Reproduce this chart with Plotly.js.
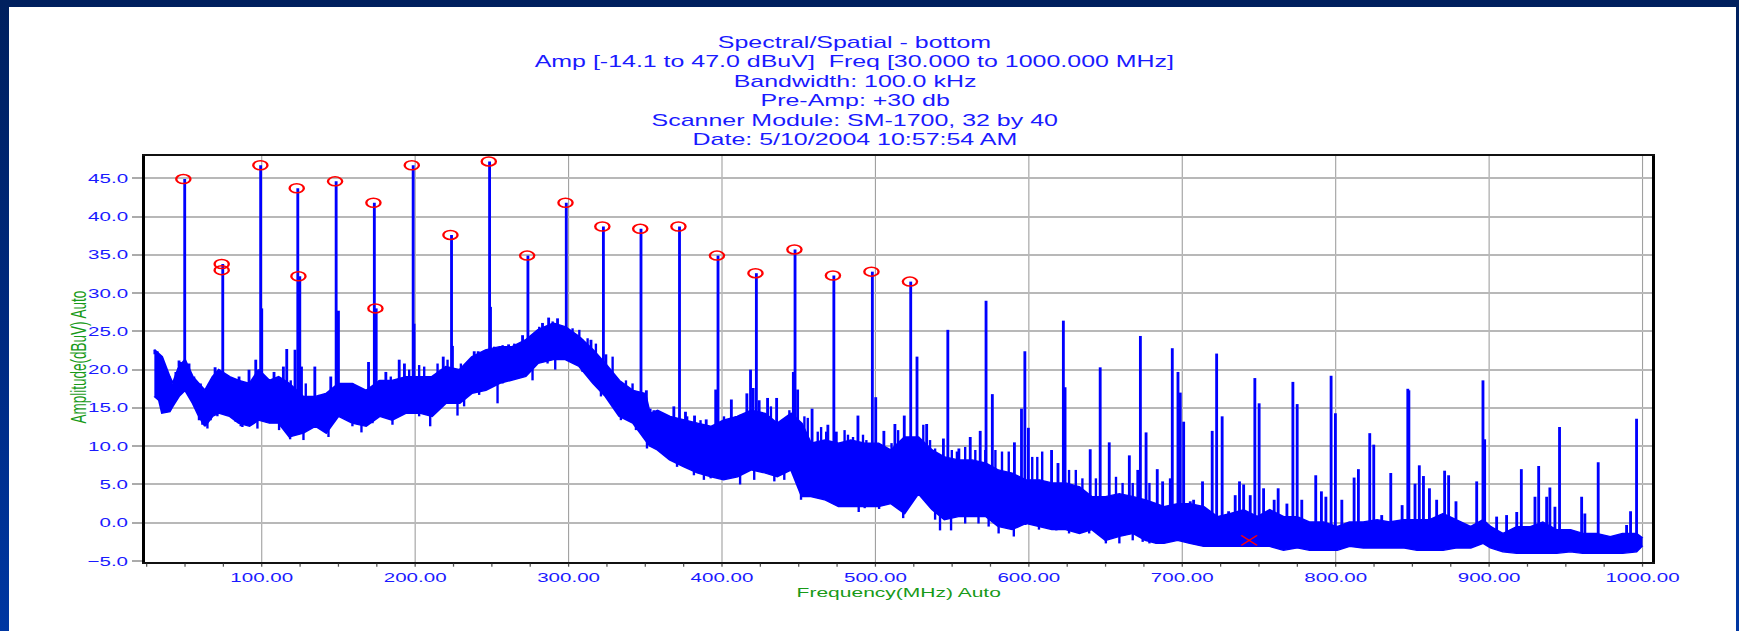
<!DOCTYPE html>
<html>
<head>
<meta charset="utf-8">
<script src="https://cdn.plot.ly/plotly-3.0.1.min.js"></script>
<style>
html, body { margin:0; padding:0; width:1739px; height:631px; overflow:hidden;
  background: linear-gradient(180deg, #00205e 0%, #002a82 55%, #0037a2 100%); }
#frame { position:absolute; left:9px; top:7px; width:1727px; height:624px; background:#ffffff; }
#plot { position:absolute; left:0; top:0; width:1100px; height:631px;
  transform: scaleX(1.580909); transform-origin: 0 0; }
</style>
</head>
<body>
<div id="frame"></div>
<div id="plot"></div>
<script>
// ---- Title lines ----
const titleLines = [
  "Spectral/Spatial - bottom",
  "Amp [-14.1 to 47.0 dBuV] \u00a0Freq [30.000 to 1000.000 MHz]",
  "Bandwidth: 100.0 kHz",
  "Pre-Amp: +30 db",
  "Scanner Module: SM-1700, 32 by 40",
  "Date: 5/10/2004 10:57:54 AM"
];
const xTitle = "Frequency(MHz) Auto";
const yTitle = "Amplitude(dBuV) Auto";

// ---- Noise floor band (MHz, dBuV) ----
const noiseFreq = [30,33,35,40,42,46,50,55,59,63,
  68,72,79,85,92,98,105,111,118,127,
  135,142,150,159,168,177,185,194,203,211,
  220,229,237,246,255,263,272,280,290,298,
  307,316,324,333,342,350,353,358,366,375,
  384,393,401,410,419,428,436,445,449,452,
  458,467,476,484,493,502,510,519,528,537,
  545,554,563,572,580,589,598,607,615,624,
  633,641,650,659,668,676,683,688,697,705,
  714,723,731,740,749,757,766,775,783,792,
  801,809,818,827,835,844,853,861,870,879,
  888,896,901,909,918,927,935,944,953,961,
  970,979,987,996,1000];
const noiseUpper = [22.6,22.0,21.7,19.1,18.2,20.4,21.3,19.1,18.2,17.3,
  19.1,20.0,19.1,18.6,18.2,20.0,18.6,19.1,18.2,16.5,
  16.5,16.9,18.2,18.2,17.3,18.6,18.6,19.1,19.1,19.1,
  20.4,20.0,21.7,22.6,23.0,23.0,23.9,25.2,26.1,25.6,
  24.3,22.6,20.8,18.6,17.3,16.9,14.3,14.7,13.9,13.4,
  13.0,12.6,13.4,13.9,14.7,14.3,13.0,14.3,13.5,13.0,
  10.4,10.8,10.4,10.8,10.4,10.4,9.5,11.2,11.2,9.5,
  8.6,8.2,8.2,7.8,6.9,6.5,5.6,5.6,5.2,5.2,
  4.7,3.4,3.4,3.8,3.4,3.0,2.5,2.1,2.5,2.5,
  2.1,0.8,1.2,1.7,0.8,1.7,0.8,0.8,0.1,0.1,
  -0.5,0.1,0.1,0.4,0.1,0.4,0.4,0.4,1.2,0.4,
  -0.5,0.4,-0.5,-1.4,-0.5,-0.5,0.1,-0.9,-0.9,-1.4,
  -1.4,-1.8,-1.4,-1.4,-2.0];
const noiseLower = [16.5,16.0,14.3,14.5,15.2,16.5,17.3,15.6,13.9,12.6,
  13.9,14.3,13.9,13.0,12.6,13.4,13.0,13.0,11.2,11.7,
  12.6,11.7,13.9,13.0,12.6,13.9,13.4,14.3,14.3,13.9,
  15.6,15.6,16.9,17.3,18.2,18.6,19.1,20.8,21.3,21.3,
  20.4,18.2,16.5,13.9,13.0,10.8,10.0,9.5,8.2,7.3,
  6.5,6.0,5.6,6.0,6.9,6.5,6.0,6.9,5.0,3.4,
  3.4,3.0,2.1,2.1,2.1,2.1,2.5,1.2,3.8,1.7,
  0.4,0.8,0.8,0.8,-0.5,-0.9,-0.1,-0.5,-0.9,-0.9,
  -1.4,-0.9,-2.3,-1.8,-1.4,-2.3,-2.7,-2.7,-2.3,-2.7,
  -3.1,-3.1,-3.1,-3.1,-3.1,-3.1,-3.6,-3.3,-3.6,-3.6,
  -3.6,-3.1,-3.3,-3.3,-3.3,-3.3,-3.6,-3.6,-3.6,-3.3,
  -3.3,-2.7,-3.3,-3.8,-4.0,-4.0,-4.0,-4.0,-3.8,-4.0,
  -4.0,-4.0,-4.0,-3.8,-3.0];

// ---- Spikes rising above the floor (MHz, peak dBuV) ----
const spikeFreq = [49.8,74.6,99.3,100.0,123.5,124.8,148.5,150.0,173.4,174.6,
  198.7,199.3,223.7,248.5,249.1,273.5,298.5,322.7,347.2,372.3,
  397.4,422.4,447.6,472.9,498.0,523.0,527.1,547.2,572.1,576.2,
  597.4,622.5,623.6,646.5,672.7,676.4,693.5,697.2,698.7,700.9,
  719.5,722.4,726.0,747.3,750.1,772.1,774.9,797.0,799.8,822.2,
  824.8,847.0,847.7,896.0,897.1,945.9,971.1,996.1,
  46.1,52.6,69.6,85.2,91.7,96.1,108.0,114.1,116.3,121.7,
  125.9,134.6,145.0,169.6,180.9,189.6,193.0,218.3,224.3,238.5,
  241.1,260.9,267.8,270.0,275.4,283.0,287.0,292.8,309.1,314.6,
  324.3,327.6,350.7,368.6,376.2,382.1,389.7,395.9,406.1,412.2,
  416.2,418.6,420.3,424.2,429.7,435.6,446.5,449.3,458.7,469.0,
  474.5,488.6,500.2,505.5,512.7,518.8,533.4,544.3,554.4,561.8,
  568.3,590.6,595.2,599.7,614.8,619.0,640.0,652.4,665.5,671.0,
  683.7,687.2,692.2,705.2,707.4,713.2,730.2,734.5,737.3,740.0,
  744.3,753.0,759.9,762.5,768.2,777.9,787.0,790.7,793.6,804.0,
  812.0,814.8,830.0,835.9,843.3,851.7,854.5,857.2,861.1,865.8,
  871.0,873.6,878.4,891.9,904.9,911.4,918.0,921.0,929.9,932.3,
  937.5,939.6,942.9,960.3,962.4,989.6,992.2];
const spikeTop = [44.9,33.8,46.7,28.0,43.7,32.2,44.6,27.7,41.8,28.0,
  46.7,26.0,37.6,47.2,28.2,34.9,41.8,38.7,38.4,38.7,
  34.9,32.6,35.7,32.3,32.8,31.5,21.7,25.2,29.0,16.8,
  22.4,26.4,17.7,20.3,24.4,11.8,22.8,19.7,17.0,13.2,
  12.0,22.1,13.9,18.9,15.6,18.4,15.5,19.2,14.3,11.7,
  10.2,17.5,17.3,18.6,10.9,12.5,7.9,13.6,
  21.2,20.8,20.3,19.1,20.0,21.3,19.7,20.4,22.7,22.6,
  20.4,20.4,19.1,21.0,19.7,21.3,20.8,21.7,23.1,22.4,
  22.4,23.3,23.2,24.5,24.1,26.1,26.8,26.7,23.9,23.9,
  22.0,19.1,17.3,15.2,14.5,14.0,13.5,17.4,16.1,14.1,
  16.9,20.0,17.6,16.0,16.3,16.3,19.7,17.4,14.9,12.8,
  11.9,14.0,16.4,12.0,12.9,14.0,12.9,11.0,9.7,11.2,
  12.0,10.5,14.9,12.4,9.5,7.8,9.6,10.5,8.8,6.9,
  7.0,5.4,5.8,2.8,3.0,5.4,1.5,3.6,5.4,5.0,
  3.6,4.5,3.0,4.5,2.5,3.0,6.2,4.1,3.4,3.0,
  5.9,7.0,1.0,6.5,2.3,5.1,7.5,6.1,4.5,3.0,
  6.8,6.2,2.8,5.4,0.8,1.0,1.4,7.0,3.4,7.4,
  3.4,4.6,2.1,3.4,1.2,-0.3,1.5];

// ---- Fine noise peaks on the top edge of the floor (MHz, dBuV) ----
const fineFreq = [30.2,32.0,33.5,36.3,43.9,47.2,52.2,55.9,60.2,65.7,
  73.3,77.6,82.0,88.5,93.9,97.8,105.9,118.9,128.7,137.4,
  140.7,152.6,155.9,159.1,162.4,176.5,184.1,196.1,202.6,205.9,
  209.1,214.6,221.1,229.8,233.0,243.9,251.5,257.0,264.6,277.6,
  280.9,289.6,296.1,302.6,307.0,312.4,317.8,328.7,333.0,337.4,
  341.7,353.3,355.5,358.7,362.0,377.3,386.0,401.3,409.0,414.4,
  431.9,438.4,441.7,443.9,453.7,455.9,462.4,464.6,467.9,479.9,
  482.1,485.4,491.9,494.1,510.5,514.8,531.2,535.6,538.9,549.8,
  553.1,558.5,565.1,571.6,578.2,582.5,586.9,602.2,605.5,608.7,
  626.2,630.6,634.9,643.7,656.8,661.1,667.7,678.6];
const fineTop = [22.6,22.4,21.7,20.0,19.7,21.0,20.6,19.1,18.2,18.2,
  19.5,18.6,18.6,17.3,18.6,20.0,18.6,18.6,18.2,16.7,
  16.5,18.2,18.2,18.2,17.8,18.6,19.1,20.0,20.6,20.4,
  19.1,20.8,21.3,20.8,20.4,22.1,23.0,23.2,23.4,24.3,
  25.6,26.3,25.6,25.4,25.2,24.1,23.4,21.7,18.6,18.6,
  18.2,14.9,14.7,14.3,13.9,13.9,13.4,13.9,13.9,13.9,
  15.2,13.0,13.0,14.7,13.9,13.7,11.9,12.5,11.9,12.1,
  11.5,11.2,11.5,10.8,10.4,12.1,12.8,10.8,9.7,9.5,
  9.3,9.9,9.5,9.5,9.5,9.3,9.3,8.6,8.6,9.3,
  6.9,6.9,5.8,5.8,6.0,5.2,5.2,5.2];

// ---- Dips below the floor (MHz, dBuV) ----
const dipFreq = [64.6,86.3,97.2,118.5,127.2,143.5,165.0,209.8,227.6,253.7,
  291.3,321.1,334.1,343.9,351.1,388.2,411.8,434.1,451.5,475.1,
  489.1,502.4,518.1,542.1,549.3,573.8,590.2,617.9,650.2,674.2,
  59.1,61.3,66.7,71.1,83.0,87.4,92.8,111.3,122.2,159.1,
  172.2,185.2,202.6,215.7,231.9,241.7,257.0,276.5,286.3,301.5,
  309.1,328.7,338.5,349.3,370.7,381.7,392.6,421.0,440.6,493.0,
  538.9,558.5,567.2,580.3,597.8,606.6,626.2,639.3,659.0,667.7,
  678.6];
const dipLow = [12.3,12.6,12.3,10.9,10.8,11.2,11.8,12.6,14.0,15.6,
  20.0,16.5,13.4,12.1,9.7,5.6,5.0,5.4,3.0,2.2,
  1.4,1.8,0.6,-1.0,-1.0,-0.5,-1.8,-1.0,-2.7,-2.5,
  13.4,12.8,13.4,13.9,13.2,12.5,12.8,12.1,11.7,12.6,
  13.0,12.8,13.9,15.2,15.2,16.7,18.2,18.6,20.8,21.0,
  19.7,15.6,13.6,11.2,7.3,6.2,5.8,5.6,5.6,1.9,
  0.4,-0.1,-0.1,-1.4,-0.3,-0.9,-1.4,-1.4,-2.7,-2.3,
  -2.7];

// ---- Marked peaks (red circles) ----
const peakFreq = [48.9,73.9,73.9,99.1,122.8,123.9,147.8,172.8,174.1,197.8,
  223.0,248.0,273.0,298.0,322.0,346.7,371.6,396.7,421.8,447.2,
  472.3,497.4,522.5];
const peakAmp = [44.9,33.8,33.0,46.7,43.7,32.2,44.6,41.8,28.0,46.7,
  37.6,47.2,34.9,41.8,38.7,38.4,38.7,34.9,32.6,35.7,
  32.3,32.8,31.5];

// ---- Cursor (red x) ----
const cursorFreq = [743.6];
const cursorAmp = [-2.3];

// Locate the band segment containing f
function seg(f) {
  for (let i = 0; i < noiseFreq.length - 1; i++) {
    if (f >= noiseFreq[i] && f <= noiseFreq[i + 1]) return i;
  }
  return noiseFreq.length - 2;
}
function rises(freqs, tops) {
  const x = [], y = [];
  freqs.forEach((f, k) => {
    const i = seg(f);
    const base = Math.min(noiseUpper[i], noiseUpper[i + 1]);
    x.push(f, f, null); y.push(base, tops[k], null);
  });
  return {x, y};
}
const mainRise = rises(spikeFreq, spikeTop);
const fineRise = rises(fineFreq, fineTop);
const dx = [], dy = [];
dipFreq.forEach((f, k) => {
  const i = seg(f);
  const base = Math.max(noiseLower[i], noiseLower[i + 1]);
  dx.push(f, f, null); dy.push(base, dipLow[k], null);
});

const BLUE = '#0000ff';
const traces = [
  {x: noiseFreq, y: noiseLower, mode: 'lines', line: {color: BLUE, width: 1.3}, hoverinfo: 'skip'},
  {x: noiseFreq, y: noiseUpper, mode: 'lines', fill: 'tonexty', fillcolor: BLUE,
   line: {color: BLUE, width: 1.3}, hoverinfo: 'skip'},
  {x: mainRise.x, y: mainRise.y, mode: 'lines', line: {color: BLUE, width: 1.8}, connectgaps: false, hoverinfo: 'skip'},
  {x: fineRise.x, y: fineRise.y, mode: 'lines', line: {color: BLUE, width: 1.5}, connectgaps: false, hoverinfo: 'skip'},
  {x: dx, y: dy, mode: 'lines', line: {color: BLUE, width: 1.5}, connectgaps: false, hoverinfo: 'skip'},
  {x: peakFreq, y: peakAmp, mode: 'markers',
   marker: {symbol: 'circle-open', size: 9, color: '#ff0000', line: {width: 1.5, color: '#ff0000'}}},
  {x: cursorFreq, y: cursorAmp, mode: 'markers',
   marker: {symbol: 'x-thin-open', size: 10, color: '#ff0000', line: {width: 1.2, color: '#ff0000'}}}
];

const titleY = [42.3, 61.7, 81.0, 100.7, 120.0, 139.3];
const annotations = titleLines.map((t, i) => ({
  text: t, xref: 'paper', yref: 'paper', x: 0.4711, y: (562 - titleY[i]) / 406,
  xanchor: 'center', yanchor: 'middle', showarrow: false,
  font: {size: 15.8, color: '#1a1aff'}
}));
annotations.push({
  text: yTitle, xref: 'paper', yref: 'paper', x: -0.0434, y: 0.505,
  xanchor: 'center', yanchor: 'middle', showarrow: false, textangle: -90,
  font: {size: 13.5, color: '#189a18'}
});

const layout = {
  width: 1100, height: 631,
  margin: {l: 92, r: 55, t: 156, b: 69, pad: 0},
  paper_bgcolor: 'rgba(0,0,0,0)', plot_bgcolor: '#ffffff',
  showlegend: false,
  font: {family: 'Liberation Sans, Arial, sans-serif', color: '#1a1aff'},
  annotations: annotations,
  xaxis: {
    range: [24.2, 1006.2], tick0: 0, dtick: 100, tickformat: '.2f',
    ticks: 'outside', ticklen: 3, tickwidth: 0.8, tickcolor: '#555555',
    showgrid: true, gridcolor: '#a0a0a0', gridwidth: 0.7,
    showline: true, linecolor: '#111111', linewidth: 1.7, mirror: true, zeroline: false,
    tickfont: {size: 13, color: '#1a1aff'},
    title: {text: xTitle, font: {size: 13.3, color: '#189a18'}, standoff: 3},
    minor: {dtick: 25, tick0: 0, ticks: 'outside', ticklen: 3, tickwidth: 0.8, tickcolor: '#555555', showgrid: false},
    automargin: false
  },
  yaxis: {
    range: [-5.13, 47.91], tick0: 0, dtick: 5, tickformat: '.1f',
    ticks: 'outside', ticklen: 6.5, tickwidth: 2, tickcolor: '#ababab',
    showgrid: true, gridcolor: '#b8b8b8', gridwidth: 2,
    showline: true, linecolor: '#000000', linewidth: 1.9, mirror: true, zeroline: false,
    tickfont: {size: 13, color: '#1a1aff'},
    automargin: false
  }
};

Plotly.newPlot('plot', traces, layout, {displayModeBar: false, staticPlot: true});
</script>
</body>
</html>
